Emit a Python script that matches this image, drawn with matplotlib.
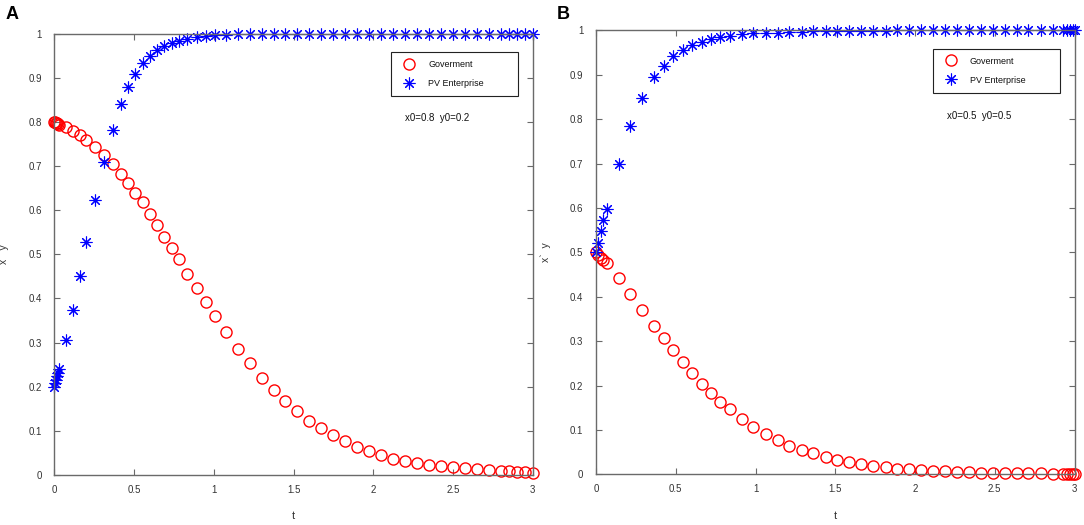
import numpy as np
import matplotlib
matplotlib.use("Agg")
import matplotlib.pyplot as plt

plt.rcParams['font.family'] = ['Liberation Sans', 'DejaVu Sans']

# ─── DATA ────────────────────────────────────────────
# panel A : x0=0.8, y0=0.2
t_a = [0.000, 0.006, 0.012, 0.019, 0.025, 0.031, 0.075, 0.118, 0.161, 0.199,
       0.255, 0.310, 0.366, 0.421, 0.465, 0.508, 0.554, 0.600, 0.646, 0.690,
       0.735, 0.780, 0.834, 0.895, 0.951, 1.008, 1.076, 1.154, 1.227, 1.300,
       1.376, 1.446, 1.524, 1.597, 1.672, 1.749, 1.823, 1.900, 1.973, 2.048,
       2.126, 2.201, 2.276, 2.347, 2.424, 2.500, 2.575, 2.650, 2.724, 2.799,
       2.851, 2.899, 2.951, 3.000]
gov_a = [0.800, 0.799, 0.798, 0.797, 0.795, 0.793, 0.788, 0.780, 0.770, 0.758,
         0.743, 0.726, 0.704, 0.681, 0.661, 0.640, 0.618, 0.592, 0.566, 0.540,
         0.514, 0.490, 0.456, 0.423, 0.391, 0.361, 0.323, 0.286, 0.254, 0.220,
         0.193, 0.167, 0.144, 0.122, 0.106, 0.090, 0.076, 0.064, 0.055, 0.045,
         0.037, 0.032, 0.027, 0.023, 0.020, 0.017, 0.015, 0.013, 0.011, 0.009,
         0.008, 0.007, 0.006, 0.005]
pv_a = [0.200, 0.208, 0.215, 0.224, 0.232, 0.240, 0.305, 0.374, 0.450, 0.527,
        0.624, 0.710, 0.782, 0.841, 0.879, 0.909, 0.934, 0.949, 0.962, 0.971,
        0.979, 0.983, 0.988, 0.993, 0.995, 0.997, 0.998, 0.999, 0.999, 1.000,
        1.000, 1.000, 1.000, 1.000, 1.000, 1.000, 1.000, 1.000, 1.000, 1.000,
        1.000, 1.000, 1.000, 1.000, 1.000, 1.000, 1.000, 1.000, 1.000, 1.000,
        1.000, 1.000, 1.000, 1.000]

# panel B : x0=0.5, y0=0.5
t_b = [0.000, 0.015, 0.030, 0.046, 0.067, 0.142, 0.214, 0.291, 0.364, 0.424,
       0.485, 0.546, 0.604, 0.663, 0.722, 0.780, 0.839, 0.914, 0.986, 1.064,
       1.138, 1.212, 1.290, 1.362, 1.440, 1.513, 1.588, 1.661, 1.739, 1.818,
       1.889, 1.964, 2.038, 2.115, 2.188, 2.263, 2.341, 2.414, 2.489, 2.562,
       2.640, 2.711, 2.788, 2.865, 2.930, 2.950, 2.970, 2.990, 3.000]
gov_b = [0.501, 0.495, 0.488, 0.482, 0.475, 0.441, 0.407, 0.371, 0.335, 0.308,
         0.280, 0.253, 0.228, 0.204, 0.183, 0.163, 0.146, 0.125, 0.107, 0.090,
         0.077, 0.064, 0.055, 0.047, 0.040, 0.032, 0.028, 0.023, 0.019, 0.016,
         0.013, 0.011, 0.010, 0.008, 0.007, 0.005, 0.005, 0.004, 0.003, 0.003,
         0.002, 0.002, 0.002, 0.001, 0.001, 0.001, 0.001, 0.001, 0.001]
pv_b = [0.500, 0.522, 0.549, 0.573, 0.598, 0.700, 0.784, 0.847, 0.894, 0.920,
        0.941, 0.956, 0.967, 0.974, 0.980, 0.986, 0.988, 0.992, 0.993, 0.995,
        0.995, 0.997, 0.997, 0.998, 0.998, 0.999, 0.999, 0.999, 0.999, 0.999,
        1.000, 1.000, 1.000, 1.000, 1.000, 1.000, 1.000, 1.000, 1.000, 1.000,
        1.000, 1.000, 1.000, 1.000, 1.000, 1.000, 1.000, 1.000, 1.000]

x_ticks = [0, 0.5, 1, 1.5, 2, 2.5, 3]
x_tick_labels = ['0', '0.5', '1', '1.5', '2', '2.5', '3']
y_ticks = [0, 0.1, 0.2, 0.3, 0.4, 0.5, 0.6, 0.7, 0.8, 0.9, 1]
y_tick_labels = ['0', '0.1', '0.2', '0.3', '0.4', '0.5', '0.6', '0.7', '0.8', '0.9', '1']

panels = [
    ('A', t_a, gov_a, pv_a, 'x0=0.8  y0=0.2'),
    ('B', t_b, gov_b, pv_b, 'x0=0.5  y0=0.5'),
]

# ─── FIGURE ──────────────────────────────────────────
fig = plt.figure(figsize=(10.84, 5.25), dpi=100)
W, H = 1084, 525
boxes = [(54.3, 33.7, 532.8, 475.0), (596.0, 30.3, 1074.5, 474.3)]
letter_x = [6, 557]

axis_grey = '#6a6a6a'
text_grey = '#333333'

for (letter, t, gov, pv, note), (x0, y0, x1, y1), lx in zip(panels, boxes, letter_x):
    ax = fig.add_axes([x0 / W, 1 - y1 / H, (x1 - x0) / W, (y1 - y0) / H])

    ax.plot(t, gov, linestyle='none', marker='o', markersize=8,
            markerfacecolor='none', markeredgecolor='#ff0000',
            markeredgewidth=1.0, label='Goverment', clip_on=False)
    ax.plot(t, pv, linestyle='none', marker=(8, 2, 0), markersize=8.5,
            markeredgecolor='#0000ff', markeredgewidth=0.8, color='#0000ff',
            label='PV Enterprise', clip_on=False)

    ax.set_xlim(0, 3)
    ax.set_ylim(0, 1)
    ax.set_xticks(x_ticks)
    ax.set_xticklabels(x_tick_labels)
    ax.set_yticks(y_ticks)
    ax.set_yticklabels(y_tick_labels)
    ax.tick_params(direction='in', top=True, right=True, length=4,
                   width=0.8, color=axis_grey, labelcolor=text_grey,
                   labelsize=7)
    ax.tick_params(axis='x', pad=7)
    ax.tick_params(axis='y', pad=9)
    for s in ax.spines.values():
        s.set_color(axis_grey)
        s.set_linewidth(1.0)

    ax.set_xlabel('t', fontsize=8, color=text_grey, labelpad=12)
    ax.set_ylabel('x`  y', fontsize=7.5, color=text_grey)
    ax.yaxis.set_label_coords(-0.094, 0.5)

    leg = ax.legend(loc='upper left', bbox_to_anchor=(0.704, 0.853, 0.265, 0.106),
                    mode='expand', fontsize=6.5, frameon=True, fancybox=False,
                    edgecolor='#222222', framealpha=1, borderpad=0.9,
                    handlelength=2.2, handletextpad=1.0, labelspacing=1.1,
                    borderaxespad=0)
    leg.get_frame().set_linewidth(0.8)
    for txt in leg.get_texts():
        txt.set_color('#111111')

    ax.text(0.733, 0.808, note, transform=ax.transAxes, fontsize=7,
            ha='left', va='center', color='#111111')

    fig.text(lx / W, 1 - 6 / H, letter, fontsize=13, fontweight='bold',
             ha='left', va='top', color='#000000')

fig.savefig('out.png', dpi=100, facecolor='white')
print("saved out.png")
